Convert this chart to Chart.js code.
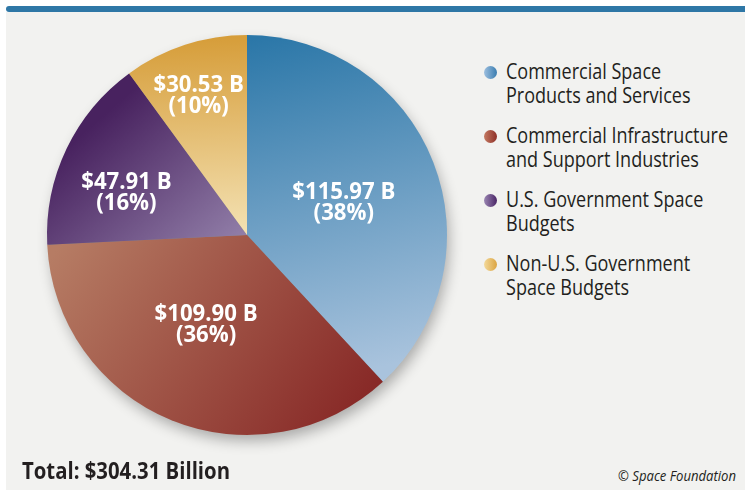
<!DOCTYPE html>
<html>
<head>
<meta charset="utf-8">
<script src="https://cdn.jsdelivr.net/npm/chart.js@4.4.1/dist/chart.umd.min.js"></script>
<style>
  html, body { margin: 0; padding: 0; background: #ffffff; }
  body { width: 745px; height: 490px; position: relative; overflow: hidden; font-family: "Open Sans", sans-serif; }
  #topbar { position: absolute; left: 6px; top: 6px; width: 745px; height: 6px;
            background: #2e77a6; border-radius: 3px 0 0 3px; }
  #panel { position: absolute; left: 6px; top: 12px; width: 739px; height: 478px; background: #f2f2f0; }
  #chartBox { position: absolute; left: 27px; top: 15px; width: 440px; height: 440px; }
  #legend { position: absolute; left: 483px; top: 59px; width: 262px; }
  .item { position: relative; height: 64px; color: #231f20; }
  .txt { position: absolute; left: 23px; top: 0; font-size: 21px; line-height: 24px; white-space: nowrap; transform-origin: 0 0; }
  .dot { position: absolute; left: 1px; top: 7px; width: 13px; height: 13px; border-radius: 50%; }
  #total { position: absolute; left: 22px; top: 454px; font-size: 23px; font-weight: bold; color: #231f20;
           white-space: nowrap; transform-origin: 0 0; }
  #credit { position: absolute; left: 618px; top: 466px; font-size: 14px; font-style: italic; color: #231f20;
            white-space: nowrap; transform-origin: 0 0; }
</style>
</head>
<body>
<div id="topbar"></div>
<div id="panel"></div>
<div id="chartBox"><canvas id="pieChart"></canvas></div>
<div id="legend"></div>
<div id="total">Total: $304.31 Billion</div>
<div id="credit">© Space Foundation</div>
<script>
// categories and values (billions USD)
const categories = [
    ['Commercial Space', 'Products and Services'],
    ['Commercial Infrastructure', 'and Support Industries'],
    ['U.S. Government Space', 'Budgets'],
    ['Non-U.S. Government', 'Space Budgets']
];
const values = [115.97, 109.90, 47.91, 30.53];
const valueLabels = ['$115.97 B', '$109.90 B', '$47.91 B', '$30.53 B'];
const percentLabels = ['(38%)', '(36%)', '(16%)', '(10%)'];

// gradient stops per slice: [start, end]
const sliceColors = [
    ['#2b77a8', '#a9c3dd'],
    ['#b67c64', '#872826'],
    ['#48225f', '#9d8db4'],
    ['#d69d39', '#f4e2b4']
];
// legend dot colours [light, dark]
const dotColors = [
    ['#9dbfdf', '#3a7db0'],
    ['#c47a62', '#8e2f27'],
    ['#9a86b2', '#4a2566'],
    ['#f3d99a', '#dba441']
];
// gradient direction per slice, as fractions of the chart area [x0, y0, x1, y1]
const gradientDirs = [
    [0.55, 0.0, 0.75, 0.85],
    [0.05, 0.5, 0.75, 1.0],
    [0.2, 0.15, 0.55, 0.55],
    [0.5, 0.0, 0.52, 0.5]
];
// label placement: fraction of radius, angle nudge in degrees
const labelRadius = [0.51, 0.49, 0.64, 0.74];
const labelNudge = [3, 2.5, -6, -1];

function sliceGradient(context) {
    const chart = context.chart;
    const area = chart.chartArea;
    const i = context.dataIndex;
    if (!area) return sliceColors[i][0];
    const w = area.right - area.left, h = area.bottom - area.top;
    const d = gradientDirs[i];
    const g = chart.ctx.createLinearGradient(area.left + d[0] * w, area.top + d[1] * h,
                                             area.left + d[2] * w, area.top + d[3] * h);
    g.addColorStop(0, sliceColors[i][0]);
    g.addColorStop(1, sliceColors[i][1]);
    return g;
}

// soft shadow under the whole pie
const pieShadow = {
    id: 'pieShadow',
    beforeDatasetsDraw(chart) {
        const arc = chart.getDatasetMeta(0).data[0];
        if (!arc) return;
        const ctx = chart.ctx;
        ctx.save();
        ctx.shadowColor = 'rgba(0,0,0,0.3)';
        ctx.shadowBlur = 14;
        ctx.shadowOffsetX = 3;
        ctx.shadowOffsetY = 7;
        ctx.fillStyle = '#888';
        ctx.beginPath();
        ctx.arc(arc.x, arc.y, arc.outerRadius - 1, 0, Math.PI * 2);
        ctx.fill();
        ctx.restore();
    }
};

// white value labels inside slices, squeezed to a condensed look
const sliceLabels = {
    id: 'sliceLabels',
    afterDatasetsDraw(chart) {
        const ctx = chart.ctx;
        const meta = chart.getDatasetMeta(0);
        ctx.save();
        ctx.fillStyle = '#ffffff';
        ctx.textAlign = 'center';
        ctx.textBaseline = 'middle';
        ctx.font = 'bold 23px "Open Sans", sans-serif';
        const sx = 103 / ctx.measureText(valueLabels[0]).width;
        meta.data.forEach((arc, i) => {
            const mid = (arc.startAngle + arc.endAngle) / 2 + labelNudge[i] * Math.PI / 180;
            const r = arc.outerRadius * labelRadius[i];
            const x = arc.x + Math.cos(mid) * r;
            const y = arc.y + Math.sin(mid) * r;
            ctx.save();
            ctx.translate(x, y);
            ctx.scale(sx, 1);
            ctx.fillText(valueLabels[i], 0, -10);
            ctx.fillText(percentLabels[i], 0, 11);
            ctx.restore();
        });
        ctx.restore();
    }
};

function squeeze(el, target) {
    const w = el.getBoundingClientRect().width;
    el.style.transform = `scaleX(${target / w})`;
}

function buildLegend() {
    const legend = document.getElementById('legend');
    const texts = [];
    categories.forEach((lines, i) => {
        const div = document.createElement('div');
        div.className = 'item';
        div.innerHTML = `<span class="dot" style="background: linear-gradient(90deg, ${dotColors[i][0]}, ${dotColors[i][1]})"></span><span class="txt">${lines.join('<br>')}</span>`;
        legend.appendChild(div);
        texts.push(div.querySelector('.txt'));
    });
    // widest line "Commercial Infrastructure" is about 222px wide in the original
    const w = texts[1].getBoundingClientRect().width;
    texts.forEach(t => t.style.transform = `scaleX(${222 / w})`);
}

document.addEventListener('DOMContentLoaded', () => {
    buildLegend();
    squeeze(document.getElementById('total'), 208);
    squeeze(document.getElementById('credit'), 118);
    const ctx = document.getElementById('pieChart').getContext('2d');
    new Chart(ctx, {
        type: 'pie',
        data: {
            labels: categories.map(c => c.join(' ')),
            datasets: [{
                data: values,
                backgroundColor: sliceGradient,
                borderWidth: 0
            }]
        },
        options: {
            responsive: true,
            maintainAspectRatio: false,
            animation: false,
            layout: { padding: 20 },
            plugins: {
                legend: { display: false },
                tooltip: { enabled: false }
            }
        },
        plugins: [pieShadow, sliceLabels]
    });
});
</script>
</body>
</html>
